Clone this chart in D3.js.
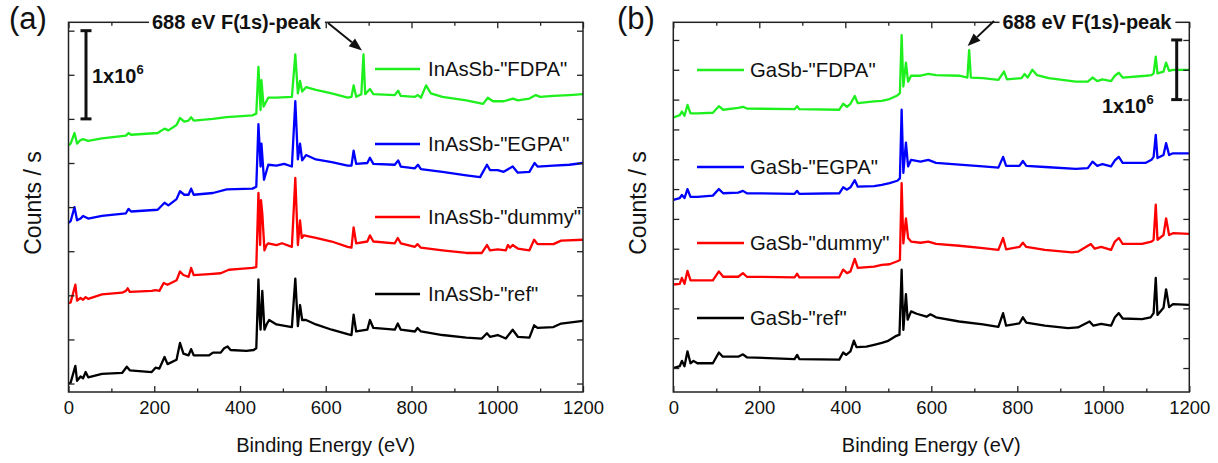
<!DOCTYPE html>
<html>
<head>
<meta charset="utf-8">
<script src="https://cdn.jsdelivr.net/npm/d3@7"></script>
<style>
  body { margin: 0; background: #fff; }
  text { font-family: "Liberation Sans", Arial, Helvetica, sans-serif; }
</style>
</head>
<body>
<svg id="chart" width="1218" height="463"></svg>
<script>
// XPS survey spectra. Intensities in units of 1e6 counts/s, curves stacked with offsets.
const energyTicks = [0, 200, 400, 600, 800, 1000, 1200];
const energyMinorTicks = [100, 300, 500, 700, 900, 1100];
const countTicksA = [0, 0.5, 1, 1.5, 2, 2.5, 3, 3.5, 4];
const countTicksB = [0, 0.5, 1, 1.5, 2, 2.5, 3, 3.5, 4, 4.5, 5, 5.5];

// (a) InAsSb
const inassbRef = [[0,0.00],[5,0.01],[16,0.20],[20,0.03],[28,0.08],[34,0.06],[40,0.13],[46,0.07],[78,0.11],[125,0.12],[136,0.19],[143,0.15],[194,0.13],[203,0.18],[212,0.17],[224,0.30],[231,0.22],[252,0.27],[260,0.46],[268,0.34],[280,0.32],[286,0.39],[292,0.32],[328,0.32],[337,0.35],[355,0.35],[363,0.40],[371,0.42],[378,0.38],[415,0.37],[432,0.38],[438,0.40],[443,1.18],[446,0.75],[448,0.61],[452,1.05],[457,0.61],[463,0.68],[468,0.72],[485,0.67],[521,0.64],[529,1.19],[535,0.65],[540,0.89],[545,0.72],[554,0.72],[577,0.67],[614,0.61],[651,0.56],[660,0.55],[665,0.78],[671,0.59],[697,0.61],[703,0.72],[711,0.63],[761,0.61],[768,0.68],[775,0.61],[808,0.59],[814,0.63],[822,0.59],[872,0.55],[928,0.52],[964,0.51],[976,0.57],[983,0.53],[1001,0.55],[1020,0.51],[1036,0.61],[1048,0.53],[1075,0.52],[1086,0.66],[1094,0.63],[1131,0.64],[1149,0.68],[1200,0.71]];
const inassbDummy = [[0,0.91],[5,0.92],[16,1.12],[20,0.94],[28,0.97],[34,0.95],[40,0.98],[46,0.96],[78,1.01],[125,1.03],[134,1.05],[138,1.08],[143,1.04],[194,1.05],[203,1.06],[212,1.05],[222,1.14],[231,1.12],[252,1.17],[260,1.27],[268,1.23],[280,1.21],[286,1.31],[292,1.23],[328,1.24],[355,1.25],[374,1.29],[400,1.30],[429,1.31],[438,1.32],[443,2.16],[447,1.57],[449,2.08],[452,1.93],[457,1.51],[462,1.57],[466,1.59],[485,1.57],[498,1.59],[521,1.55],[529,2.33],[535,1.57],[540,1.85],[544,1.65],[549,1.68],[577,1.65],[614,1.61],[651,1.55],[660,1.54],[665,1.77],[671,1.59],[697,1.61],[703,1.68],[711,1.61],[761,1.59],[768,1.65],[775,1.59],[808,1.55],[814,1.58],[822,1.54],[872,1.51],[928,1.48],[964,1.48],[976,1.57],[983,1.51],[1001,1.52],[1020,1.51],[1025,1.57],[1030,1.54],[1036,1.57],[1048,1.53],[1075,1.51],[1086,1.63],[1094,1.58],[1131,1.58],[1149,1.62],[1200,1.63]];
const inassbEgpa = [[0,1.82],[5,1.84],[14,2.00],[20,1.85],[28,1.87],[34,1.90],[46,1.87],[78,1.90],[134,1.93],[140,1.98],[146,1.95],[208,1.97],[224,2.05],[233,2.02],[252,2.09],[260,2.18],[270,2.14],[280,2.14],[286,2.21],[292,2.14],[337,2.16],[369,2.20],[429,2.21],[438,2.23],[443,2.94],[448,2.46],[450,2.72],[456,2.31],[466,2.48],[485,2.47],[503,2.49],[521,2.46],[529,3.20],[535,2.54],[540,2.72],[545,2.53],[554,2.59],[577,2.54],[614,2.51],[651,2.47],[660,2.47],[665,2.64],[671,2.49],[697,2.50],[703,2.56],[711,2.49],[761,2.48],[769,2.53],[775,2.46],[808,2.44],[815,2.48],[822,2.43],[872,2.40],[928,2.36],[960,2.34],[976,2.48],[983,2.42],[1001,2.42],[1015,2.40],[1036,2.46],[1048,2.39],[1075,2.40],[1087,2.50],[1094,2.46],[1131,2.47],[1168,2.48],[1200,2.50]];
const inassbFdpa = [[0,2.70],[5,2.72],[14,2.84],[20,2.72],[28,2.76],[34,2.77],[46,2.75],[78,2.78],[134,2.81],[140,2.84],[146,2.82],[208,2.84],[224,2.89],[233,2.87],[252,2.93],[260,3.01],[270,2.97],[280,2.98],[286,3.02],[292,2.98],[337,3.00],[369,3.02],[429,3.04],[438,3.06],[443,3.59],[448,3.10],[450,3.44],[455,3.14],[466,3.24],[485,3.24],[521,3.25],[529,3.73],[535,3.29],[540,3.43],[545,3.31],[554,3.36],[577,3.33],[614,3.29],[651,3.24],[660,3.25],[665,3.38],[671,3.25],[683,3.28],[688,3.73],[692,3.28],[703,3.34],[711,3.28],[761,3.27],[769,3.32],[775,3.26],[808,3.25],[815,3.27],[822,3.24],[834,3.38],[845,3.29],[872,3.25],[928,3.21],[967,3.17],[978,3.24],[990,3.20],[1015,3.20],[1037,3.23],[1048,3.21],[1075,3.23],[1090,3.27],[1100,3.25],[1131,3.26],[1168,3.27],[1200,3.28]];

// (b) GaSb
const gasbRef = [[0,0.00],[15,0.03],[20,0.12],[26,0.03],[33,0.28],[40,0.08],[47,0.12],[56,0.08],[92,0.08],[106,0.26],[115,0.19],[151,0.19],[162,0.23],[171,0.18],[282,0.15],[288,0.22],[293,0.15],[386,0.14],[395,0.26],[402,0.22],[412,0.28],[420,0.46],[426,0.35],[449,0.36],[467,0.39],[485,0.42],[498,0.45],[516,0.53],[526,0.56],[531,1.65],[535,0.64],[541,1.24],[545,0.81],[553,0.95],[566,0.91],[589,0.86],[598,0.90],[611,0.85],[665,0.78],[720,0.73],[756,0.69],[767,0.92],[774,0.71],[805,0.75],[813,0.85],[821,0.76],[864,0.71],[918,0.67],[941,0.68],[968,0.78],[977,0.71],[995,0.74],[1018,0.71],[1027,0.85],[1036,0.92],[1045,0.83],[1090,0.82],[1110,0.85],[1117,0.92],[1122,1.51],[1126,0.89],[1140,1.01],[1146,1.32],[1153,1.02],[1162,1.07],[1200,1.06]];
const gasbDummy = [[0,1.40],[15,1.41],[20,1.51],[26,1.41],[33,1.63],[40,1.47],[56,1.47],[92,1.47],[106,1.62],[116,1.53],[151,1.53],[162,1.59],[171,1.53],[282,1.52],[288,1.58],[293,1.52],[386,1.52],[395,1.65],[404,1.59],[412,1.62],[422,1.83],[429,1.68],[467,1.70],[485,1.73],[503,1.74],[521,1.79],[527,1.81],[531,3.10],[535,2.09],[541,2.51],[546,2.18],[553,2.12],[575,2.10],[593,2.12],[611,2.08],[665,2.05],[720,2.01],[756,1.98],[767,2.18],[774,1.99],[805,2.03],[813,2.10],[821,2.03],[864,1.98],[927,1.94],[941,1.95],[971,2.08],[980,2.00],[995,2.03],[1018,1.98],[1027,2.12],[1036,2.18],[1045,2.08],[1090,2.08],[1112,2.12],[1117,2.15],[1122,2.74],[1126,2.15],[1140,2.23],[1146,2.51],[1153,2.23],[1162,2.26],[1200,2.25]];
const gasbEgpa = [[0,2.82],[15,2.85],[20,2.90],[26,2.85],[33,3.00],[40,2.87],[56,2.87],[92,2.89],[106,3.00],[116,2.93],[151,2.94],[162,2.97],[171,2.93],[282,2.92],[288,2.97],[293,2.92],[386,2.93],[395,3.03],[404,2.99],[412,3.03],[422,3.15],[429,3.04],[467,3.05],[485,3.07],[503,3.10],[521,3.14],[527,3.18],[531,4.33],[535,3.27],[541,3.78],[546,3.38],[553,3.49],[575,3.46],[593,3.49],[611,3.44],[665,3.41],[720,3.38],[756,3.36],[767,3.54],[774,3.39],[805,3.39],[813,3.47],[821,3.39],[864,3.37],[936,3.34],[964,3.35],[975,3.46],[986,3.39],[998,3.42],[1018,3.38],[1027,3.48],[1036,3.54],[1045,3.44],[1099,3.44],[1112,3.49],[1117,3.54],[1122,3.91],[1126,3.52],[1140,3.57],[1146,3.77],[1153,3.57],[1162,3.60],[1200,3.60]];
const gasbFdpa = [[0,4.20],[15,4.24],[20,4.30],[26,4.23],[33,4.41],[40,4.27],[56,4.27],[92,4.28],[106,4.39],[116,4.33],[151,4.36],[162,4.38],[171,4.35],[282,4.34],[288,4.39],[293,4.34],[386,4.33],[395,4.43],[404,4.38],[412,4.43],[422,4.56],[429,4.44],[467,4.47],[485,4.48],[503,4.51],[521,4.57],[527,4.61],[531,5.58],[535,4.72],[541,5.12],[546,4.80],[553,4.90],[575,4.90],[593,4.93],[611,4.91],[665,4.90],[684,4.87],[688,5.33],[692,4.87],[720,4.86],[756,4.83],[769,4.97],[776,4.84],[810,4.86],[817,4.93],[824,4.87],[835,5.00],[846,4.91],[873,4.86],[936,4.80],[964,4.80],[975,4.87],[986,4.81],[998,4.84],[1018,4.81],[1027,4.90],[1036,4.95],[1045,4.87],[1099,4.90],[1112,4.91],[1117,4.94],[1122,5.22],[1126,4.94],[1140,4.97],[1146,5.12],[1153,4.98],[1162,5.00],[1200,5.00]];

const labelsA = ['InAsSb-"FDPA"', 'InAsSb-"EGPA"', 'InAsSb-"dummy"', 'InAsSb-"ref"'];
const labelsB = ['GaSb-"FDPA"', 'GaSb-"EGPA"', 'GaSb-"dummy"', 'GaSb-"ref"'];
const seriesColors = ['#1ef01e', '#0000ff', '#ff0000', '#000000'];
const fluorinePeak = 688;           // eV
const scaleBarValues = [1, 1e6];    // bar length in plot units and its meaning
const annotationText = '688 eV F(1s)-peak';
const xTitle = 'Binding Energy (eV)';
const yTitle = 'Counts / s';

const svg = d3.select('#chart');
svg.append('rect').attr('width', 1218).attr('height', 463).attr('fill', '#fff');

const panels = [
  {
    tag: '(a)', tagX: 9,
    left: 68.5, right: 583, top: 22.3, bottom: 392,
    yDomain: [-0.096, 4.095], yTicks: countTicksA,
    series: [inassbFdpa, inassbEgpa, inassbDummy, inassbRef], labels: labelsA,
    legend: { x1: 375, x2: 420, tx: 428, ys: [69, 144, 217, 294] },
    bar: { x: 86, v0: 3.0, capW: 11, textX: 92, textY: 83 },
    note: { cx: 236.5, start: [328, 23] },
    yTitleX: 41
  },
  {
    tag: '(b)', tagX: 617,
    left: 673.3, right: 1189.3, top: 22.3, bottom: 392,
    yDomain: [-0.402, 5.796], yTicks: countTicksB,
    series: [gasbFdpa, gasbEgpa, gasbDummy, gasbRef], labels: labelsB,
    legend: { x1: 697, x2: 744, tx: 750, ys: [70, 167, 243, 318] },
    bar: { x: 1176.7, v0: 4.5, capW: 11, textX: 1102, textY: 113 },
    note: { cx: 1087, start: [994, 21] },
    yTitleX: 646
  }
];

panels.forEach(p => {
  const x = d3.scaleLinear().domain([0, 1200]).range([p.left, p.right]);
  const y = d3.scaleLinear().domain(p.yDomain).range([p.bottom, p.top]);
  const g = svg.append('g');

  // spectra
  const line = d3.line().x(d => x(d[0])).y(d => y(d[1]));
  p.series.forEach((s, i) => {
    g.append('path').datum(s).attr('d', line)
      .attr('fill', 'none').attr('stroke', seriesColors[i])
      .attr('stroke-width', 2.3).attr('stroke-linejoin', 'round');
  });

  // axes: inward ticks on all four sides
  const bottomAx = g.append('g').attr('transform', `translate(0,${p.bottom})`)
    .call(d3.axisBottom(x).tickValues(energyTicks).tickFormat(d3.format('d'))
      .tickSizeInner(-6).tickSizeOuter(0).tickPadding(9));
  bottomAx.selectAll('text').attr('font-size', 18.5).attr('fill', '#111');
  g.append('g').attr('transform', `translate(0,${p.bottom})`)
    .call(d3.axisBottom(x).tickValues(energyMinorTicks).tickSizeInner(-3.5).tickSizeOuter(0).tickFormat(''));
  g.append('g').attr('transform', `translate(0,${p.top})`)
    .call(d3.axisTop(x).tickValues(energyTicks).tickSizeInner(-6).tickSizeOuter(0).tickFormat(''));
  g.append('g').attr('transform', `translate(0,${p.top})`)
    .call(d3.axisTop(x).tickValues(energyMinorTicks).tickSizeInner(-3.5).tickSizeOuter(0).tickFormat(''));
  g.append('g').attr('transform', `translate(${p.left},0)`)
    .call(d3.axisLeft(y).tickValues(p.yTicks).tickSizeInner(-6).tickSizeOuter(0).tickFormat(''));
  g.append('g').attr('transform', `translate(${p.right},0)`)
    .call(d3.axisRight(y).tickValues(p.yTicks).tickSizeInner(-6).tickSizeOuter(0).tickFormat(''));
  g.selectAll('.domain').remove();
  g.selectAll('.tick line').attr('stroke', '#222').attr('stroke-width', 1.3);

  g.append('rect').attr('x', p.left).attr('y', p.top)
    .attr('width', p.right - p.left).attr('height', p.bottom - p.top)
    .attr('fill', 'none').attr('stroke', '#222').attr('stroke-width', 1.5);

  // legend
  p.labels.forEach((lab, i) => {
    const ly = p.legend.ys[i];
    g.append('line').attr('x1', p.legend.x1).attr('x2', p.legend.x2)
      .attr('y1', ly).attr('y2', ly).attr('stroke', seriesColors[i]).attr('stroke-width', 2.3);
    g.append('text').attr('x', p.legend.tx).attr('y', ly + 7)
      .attr('font-size', 20.3).attr('fill', '#111').text(lab);
  });

  // scale bar (1x10^6 counts/s)
  const yb0 = y(p.bar.v0), yb1 = y(p.bar.v0 + scaleBarValues[0]);
  const bar = g.append('g').attr('stroke', '#111').attr('stroke-width', 3);
  bar.append('line').attr('x1', p.bar.x).attr('x2', p.bar.x).attr('y1', yb0).attr('y2', yb1);
  bar.append('line').attr('x1', p.bar.x - p.bar.capW / 2).attr('x2', p.bar.x + p.bar.capW / 2).attr('y1', yb0).attr('y2', yb0);
  bar.append('line').attr('x1', p.bar.x - p.bar.capW / 2).attr('x2', p.bar.x + p.bar.capW / 2).attr('y1', yb1).attr('y2', yb1);
  const bt = g.append('text').attr('x', p.bar.textX).attr('y', p.bar.textY)
    .attr('font-size', 20).attr('font-weight', 'bold').attr('fill', '#111');
  bt.append('tspan').text('1x10');
  bt.append('tspan').attr('dy', -9).attr('font-size', 13).text(String(Math.log10(scaleBarValues[1])));

  // F(1s) annotation with arrow pointing at the peak of the FDPA curve
  const fd = p.series[0].find(d => d[0] === fluorinePeak);
  const tip = [x(fd[0]) - 1.5, y(fd[1]) - 4];
  const nt = g.append('text').attr('x', p.note.cx).attr('y', p.top + 7)
    .attr('text-anchor', 'middle').attr('font-size', 20).attr('font-weight', 'bold')
    .attr('fill', '#111').text(annotationText);
  const bb = nt.node().getBBox();
  g.insert('rect', () => nt.node())
    .attr('x', bb.x - 3).attr('y', p.top - 3)
    .attr('width', bb.width + 6).attr('height', 6).attr('fill', '#fff');
  const [sx0, sy0] = p.note.start;
  const ang = Math.atan2(tip[1] - sy0, tip[0] - sx0);
  const hl = 13, hw = 5;
  const bx = tip[0] - hl * Math.cos(ang), by = tip[1] - hl * Math.sin(ang);
  g.append('line').attr('x1', sx0).attr('y1', sy0).attr('x2', bx).attr('y2', by)
    .attr('stroke', '#111').attr('stroke-width', 2);
  g.append('path')
    .attr('d', `M${tip[0]},${tip[1]} L${bx + hw * Math.sin(ang)},${by - hw * Math.cos(ang)} L${bx - hw * Math.sin(ang)},${by + hw * Math.cos(ang)} Z`)
    .attr('fill', '#111');

  // titles
  g.append('text').attr('x', (p.left + p.right) / 2).attr('y', 452)
    .attr('text-anchor', 'middle').attr('font-size', 20).attr('fill', '#111').text(xTitle);
  g.append('text').attr('transform', `translate(${p.yTitleX},203) rotate(-90)`)
    .attr('text-anchor', 'middle').attr('font-size', 23).attr('fill', '#111').text(yTitle);
  g.append('text').attr('x', p.tagX).attr('y', 29)
    .attr('font-size', 31).attr('fill', '#111').text(p.tag);
});
</script>
</body>
</html>
